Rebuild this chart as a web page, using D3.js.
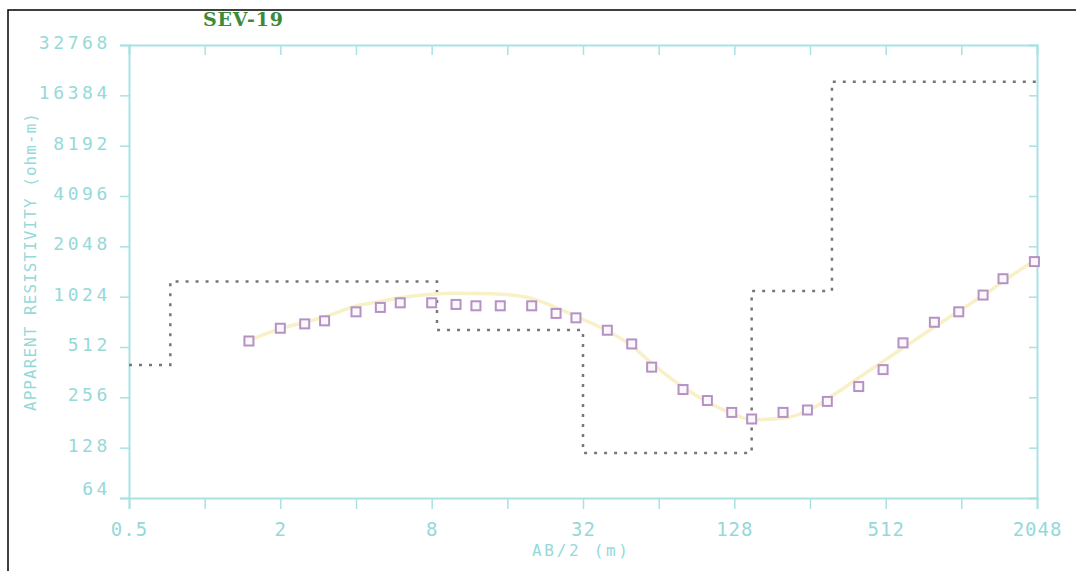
<!DOCTYPE html>
<html>
<head>
<meta charset="utf-8">
<script src="https://cdn.jsdelivr.net/npm/d3@7"></script>
<style>
  body { margin: 0; background: #fff; }
  svg { display: block; }
</style>
</head>
<body>
<svg></svg>
<script>
// AB/2 spacings (m) of the field readings
let spacing = [1.5, 2, 2.5, 3, 4, 5, 6, 8, 10, 12, 15, 20, 25, 30, 40, 50, 60, 80, 100, 125,
               150, 200, 250, 300, 400, 500, 600, 800, 1000, 1250, 1500, 2000];
// observed apparent resistivity (ohm-m)
let observed = [556, 663, 704, 734, 831, 883, 941, 941, 920, 903, 903, 903, 813, 765, 645, 534,
                388, 285, 245, 208, 190, 208, 215, 242, 297, 375, 542, 720, 831, 1047, 1311, 1660];
// calculated (model) curve at the same spacings
let calculated = [560, 660, 720, 775, 900, 960, 1010, 1060, 1075, 1070, 1060, 1000, 880, 780, 640, 520,
                  410, 295, 240, 205, 188, 192, 212, 250, 335, 420, 505, 675, 840, 1040, 1260, 1690];
// layered model: bottom depth of each layer and its resistivity
let layerDepth = [0.73, 8.4, 32, 150, 313];
let layerRho = [400, 1262, 647, 119, 1107, 19780];

let xTicks = [0.5, 1, 2, 4, 8, 16, 32, 64, 128, 256, 512, 1024, 2048];
let xLabels = ["0.5", "", "2", "", "8", "", "32", "", "128", "", "512", "", "2048"];
let yTicks = [64, 128, 256, 512, 1024, 2048, 4096, 8192, 16384, 32768];

let svgWidth = 1076, svgHeight = 571;
let axisColor = "#a9e2e2";
let textColor = "#95d9d9";

let svg = d3.select("svg")
    .attr("width", svgWidth)
    .attr("height", svgHeight);

// outer black frame (open on the right and bottom)
svg.append("rect")
    .attr("x", 8).attr("y", 10)
    .attr("width", 1100).attr("height", 600)
    .attr("fill", "none")
    .attr("stroke", "#000")
    .attr("stroke-width", 1.5);

let x = d3.scaleLog().base(2)
    .domain([0.5, 2048])
    .range([129, 1037]);

let y = d3.scaleLog().base(2)
    .domain([64, 32768])
    .range([498, 45]);

// axes
let axBottom = svg.append("g")
    .attr("transform", "translate(0," + y(64) + ")")
    .call(d3.axisBottom(x).tickValues(xTicks).tickSize(11).tickPadding(14)
        .tickFormat(function (d, i) { return xLabels[i]; }));

let axTop = svg.append("g")
    .attr("transform", "translate(0," + y(32768) + ")")
    .call(d3.axisBottom(x).tickValues(xTicks).tickSize(10).tickFormat(""));

let axLeft = svg.append("g")
    .attr("transform", "translate(" + x(0.5) + ",0)")
    .call(d3.axisLeft(y).tickValues(yTicks).tickSize(9).tickPadding(9)
        .tickFormat(d3.format("d")));

let axRight = svg.append("g")
    .attr("transform", "translate(" + x(2048) + ",0)")
    .call(d3.axisLeft(y).tickValues(yTicks).tickSize(8).tickFormat(""));

[axBottom, axTop, axLeft, axRight].forEach(function (g) {
    g.select(".domain").attr("stroke", axisColor).attr("stroke-width", 2);
    g.selectAll(".tick line").attr("stroke", axisColor).attr("stroke-width", 1.5);
});
axTop.selectAll(".tick").filter(function (d) { return d === 0.5 || d === 2048; }).remove();
axRight.selectAll(".tick").filter(function (d) { return d === 64 || d === 32768; }).remove();

axBottom.selectAll(".tick text")
    .attr("fill", textColor)
    .attr("font-family", "DejaVu Sans Mono")
    .attr("font-size", 19)
    .attr("letter-spacing", 1);

axLeft.selectAll(".tick text")
    .attr("fill", textColor)
    .attr("font-family", "DejaVu Sans Mono")
    .attr("font-size", 18)
    .attr("letter-spacing", 3.6)
    .attr("dy", "0.2em");
axLeft.selectAll(".tick").filter(function (d) { return d === 64; })
    .select("text").attr("dy", "-0.2em");

// axis titles
svg.append("text")
    .attr("transform", "translate(36,262) rotate(-90)")
    .attr("text-anchor", "middle")
    .attr("fill", textColor)
    .attr("font-family", "DejaVu Sans Mono")
    .attr("font-size", 16)
    .attr("textLength", 298)
    .text("APPARENT RESISTIVITY (ohm-m)");

svg.append("text")
    .attr("x", 580).attr("y", 556)
    .attr("text-anchor", "middle")
    .attr("fill", textColor)
    .attr("font-family", "DejaVu Sans Mono")
    .attr("font-size", 16)
    .attr("textLength", 96)
    .text("AB/2 (m)");

// title
svg.append("text")
    .attr("x", 203).attr("y", 26)
    .attr("fill", "#3a8a3a")
    .attr("font-family", "DejaVu Serif")
    .attr("font-weight", "bold")
    .attr("font-size", 19)
    .attr("textLength", 80)
    .text("SEV-19");

// layered model (dotted steps)
let steps = [[0.5, layerRho[0]]];
layerDepth.forEach(function (d, i) { steps.push([d, layerRho[i + 1]]); });
steps.push([2048, layerRho[layerRho.length - 1]]);

let stepLine = d3.line()
    .x(function (d) { return x(d[0]); })
    .y(function (d) { return y(d[1]); })
    .curve(d3.curveStepAfter);

svg.append("path")
    .datum(steps)
    .attr("fill", "none")
    .attr("stroke", "#777")
    .attr("stroke-width", 2.5)
    .attr("stroke-dasharray", "3,7")
    .attr("d", stepLine);

// calculated curve
let curveLine = d3.line()
    .x(function (d, i) { return x(spacing[i]); })
    .y(function (d) { return y(d); })
    .curve(d3.curveMonotoneX);

svg.append("path")
    .datum(calculated)
    .attr("fill", "none")
    .attr("stroke", "#f8f0c6")
    .attr("stroke-width", 3.5)
    .attr("stroke-linecap", "round")
    .attr("d", curveLine);

// observed points
svg.append("g")
    .selectAll("rect")
    .data(observed)
    .join("rect")
    .attr("x", function (d, i) { return x(spacing[i]) - 4.5; })
    .attr("y", function (d) { return y(d) - 4.5; })
    .attr("width", 9)
    .attr("height", 9)
    .attr("fill", "#fbf8fc")
    .attr("stroke", "#b592c6")
    .attr("stroke-width", 2);
</script>
</body>
</html>
